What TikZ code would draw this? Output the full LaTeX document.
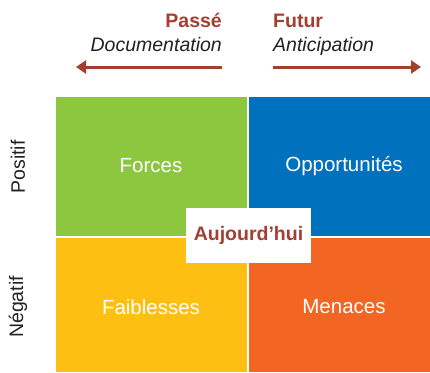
\documentclass[tikz,border=0pt]{standalone}
\usepackage{fontspec}
\setmainfont{Liberation Sans}
\usetikzlibrary{arrows.meta}
\definecolor{cgreen}{HTML}{8DC63F}
\definecolor{cblue}{HTML}{0071BC}
\definecolor{cyellow}{HTML}{FCBF12}
\definecolor{corange}{HTML}{F26522}
\definecolor{cred}{HTML}{A23F32}
\definecolor{ctext}{HTML}{222222}
\begin{document}
\begin{tikzpicture}[x=1pt,y=-1pt,
  quad/.style={anchor=north west,inner sep=0pt,outer sep=0pt,draw=none},
  qtext/.style={text=white,font=\fontsize{20.5}{23}\selectfont},
  side/.style={text=ctext,rotate=90,font=\fontsize{19.5}{22}\selectfont},
  head/.style={text=cred,inner sep=0pt,font=\fontsize{19.5}{22}\selectfont\bfseries},
  sub/.style={text=ctext,inner sep=0pt,font=\fontsize{19.5}{22}\selectfont\itshape},
  arr/.style={draw=cred,line width=3pt,-{Triangle[length=10pt,width=13pt]}}]
\useasboundingbox (0,0) rectangle (430,372);
\fill[white] (0,0) rectangle (430,372);
% quadrants
\node[quad,fill=cgreen,minimum width=191pt,minimum height=139pt] (q1) at (56,97) {};
\node[quad,fill=cblue,minimum width=181pt,minimum height=139pt] (q2) at (249,97) {};
\node[quad,fill=cyellow,minimum width=191pt,minimum height=134pt] (q3) at (56,238) {};
\node[quad,fill=corange,minimum width=181pt,minimum height=134pt] (q4) at (249,238) {};
\node[qtext] (t1) at (151,166) {Forces};
\node[qtext] (t2) at (344,166) {Opportunités};
\node[qtext] (t3) at (151,307) {Faiblesses};
\node[qtext] (t4) at (344,307) {Menaces};
% center box
\node[fill=white,minimum width=125pt,minimum height=55pt,inner sep=0pt,text=cred,font=\fontsize{19.5}{22}\selectfont\bfseries] (c) at (248.5,235.5) {Aujourd’hui};
% side labels
\node[side] (pos) at (18,167) {Positif};
\node[side] (neg) at (18,307) {Négatif};
% top headings
\node[head,anchor=base east] (passe) at (222,27) {Passé};
\node[sub,anchor=base east] (doc) at (222,51) {Documentation};
\node[head,anchor=base west] (futur) at (273,27) {Futur};
\node[sub,anchor=base west] (anti) at (273,51) {Anticipation};
% arrows
\coordinate (a1) at (222,67);
\coordinate (a2) at (76,67);
\coordinate (b1) at (273,67);
\coordinate (b2) at (421,67);
\draw[arr] (a1) -- (a2);
\draw[arr] (b1) -- (b2);
\end{tikzpicture}
\end{document}
